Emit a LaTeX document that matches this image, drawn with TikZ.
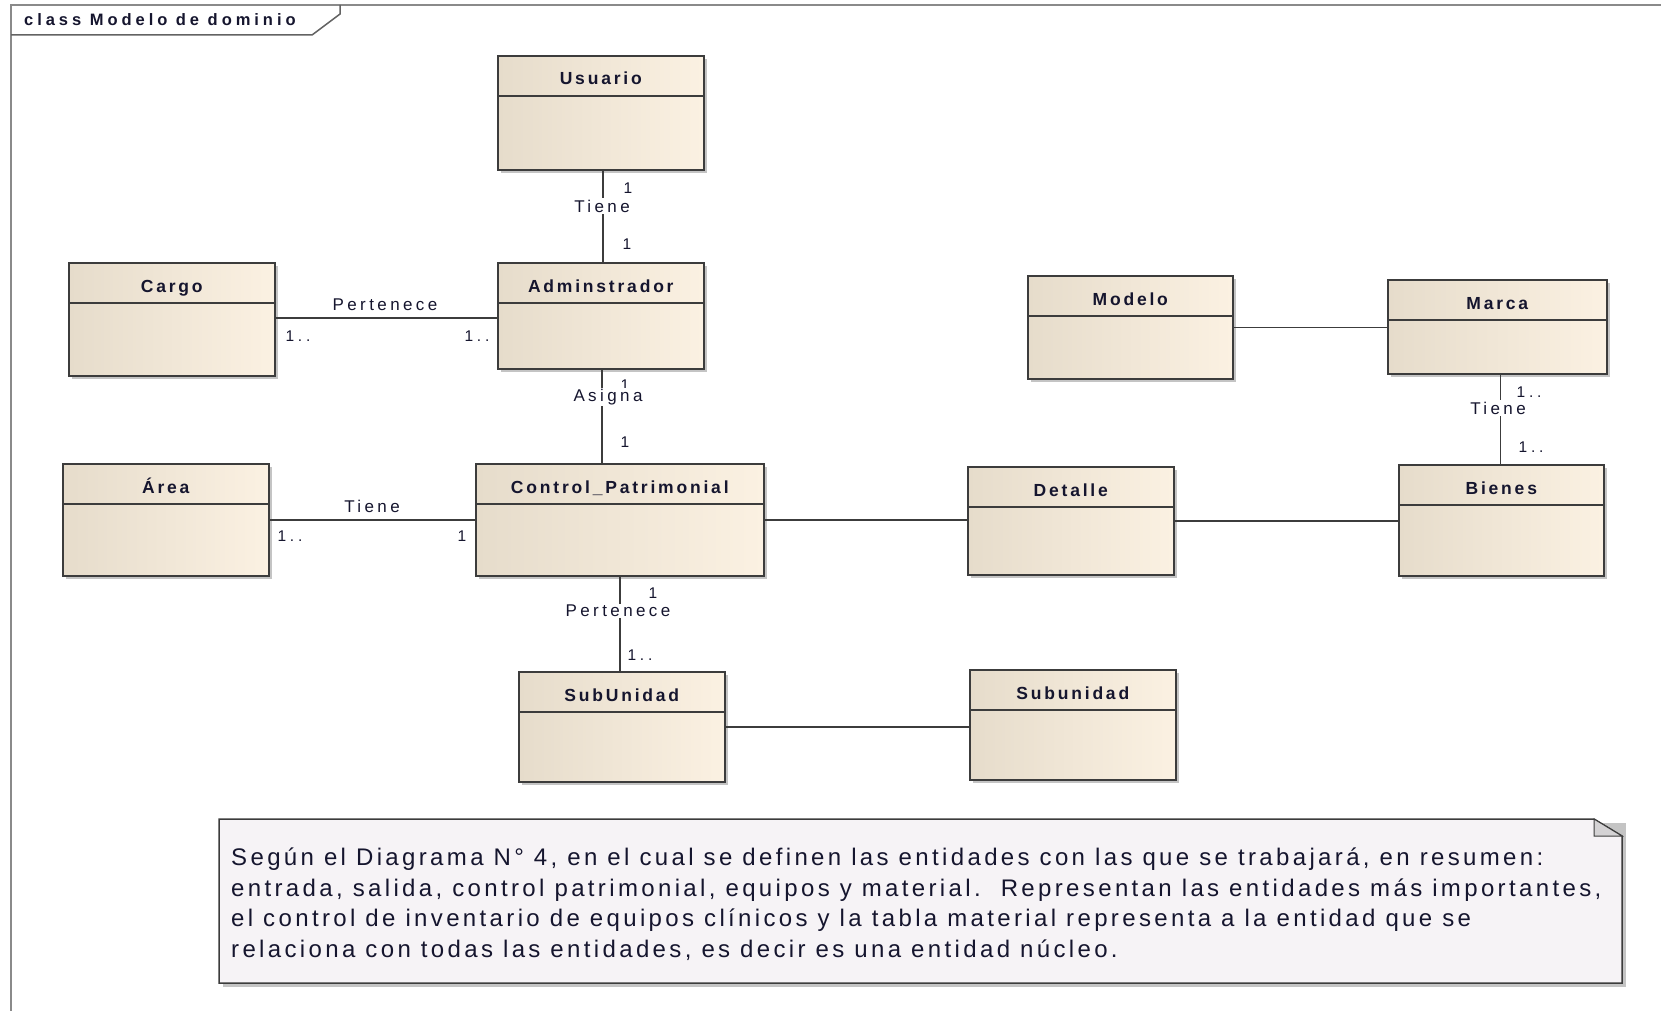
\documentclass[tikz,border=0pt]{standalone}
\usepackage{fontspec}
\setmainfont{Liberation Sans}
\newfontfamily\clsfont[LetterSpace=16]{Liberation Sans}
\newfontfamily\lblfont[LetterSpace=20]{Liberation Sans}
\newfontfamily\mulfont[LetterSpace=24]{Liberation Sans}
\newfontfamily\framefont[LetterSpace=24]{Liberation Sans}
\newfontfamily\notefont[LetterSpace=14]{Liberation Sans}
\usetikzlibrary{calc}

\definecolor{boxline}{HTML}{3C3C3C}
\definecolor{clsL}{HTML}{E6DCCB}
\definecolor{clsR}{HTML}{FBF1E2}
\definecolor{txt}{HTML}{15152E}
\definecolor{framec}{HTML}{8A8A8A}
\definecolor{notefill}{HTML}{F6F3F6}
\definecolor{foldc}{HTML}{D4D2D4}
\definecolor{shadowc}{HTML}{C4C4C4}

\tikzset{
  classbox/.style={draw=boxline, line width=1.6pt, left color=clsL, right color=clsR,
    inner sep=0pt, rectangle},
  classtitle/.style={font=\clsfont\bfseries\fontsize{17.5}{19}\selectfont, text=txt,
    inner sep=0pt, anchor=base},
  assoc/.style={draw=boxline, line width=1.4pt},
  rolename/.style={font=\lblfont\fontsize{17}{19}\selectfont, text=txt, inner sep=1.5pt},
  rolegap/.style={rolename, fill=white},
  mult/.style={font=\mulfont\fontsize{15.5}{17}\selectfont, text=txt, inner sep=0pt},
  notetext/.style={font=\notefont\fontsize{24}{28}\selectfont, text=txt,
    anchor=base west, inner sep=0pt},
}

% UML class: name, left x, top y, width, height, title
\newcommand\umlclass[6]{%
  \fill[shadowc] (#2+4,#3+4) rectangle (#2+#4+4,#3+#5+4);
  \node[classbox, anchor=north west, minimum width=#4pt, minimum height=#5pt] (#1) at (#2,#3) {};
  \draw[boxline, line width=1.6pt] ([yshift=-41pt]#1.north west) -- ([yshift=-41pt]#1.north east);
  \node[classtitle] (#1-title) at ([yshift=-30pt]#1.north) {#6};
}

\begin{document}
\begin{tikzpicture}[x=1pt, y=-1pt]
  \fill[white] (0,0) rectangle (1661,1011);
  \useasboundingbox (0,0) rectangle (1661,1011);

  % diagram frame and its tab
  \draw[framec, line width=2.5pt] (11,1011) -- (11,5) -- (1661,5);
  \draw[boxline!80, line width=1.5pt] (11,35) -- (312,35) -- (340,14) -- (340,5);
  \node[font=\framefont\bfseries\fontsize{16.5}{18}\selectfont, anchor=base west, text=txt,
    inner sep=0pt] (frametitle) at (24,26) {class Modelo de dominio};

  % classes
  \umlclass{usuario}{497}{55}{206}{114}{Usuario}
  \umlclass{admin}{497}{262}{206}{106}{Adminstrador}
  \umlclass{cargo}{68}{262}{206}{113}{Cargo}
  \umlclass{area}{62}{463}{206}{112}{Área}
  \umlclass{control}{475}{463}{288}{112}{Control\_Patrimonial}
  \umlclass{subunidad}{518}{671}{206}{110}{SubUnidad}
  \umlclass{subunidad2}{969}{669}{206}{110}{Subunidad}
  \umlclass{detalle}{967}{466}{206}{108}{Detalle}
  \umlclass{bienes}{1398}{464}{205}{111}{Bienes}
  \umlclass{modelo}{1027}{275}{205}{103}{Modelo}
  \umlclass{marca}{1387}{279}{219}{94}{Marca}

  % Usuario -- Adminstrador
  \draw[assoc] ([xshift=2pt]usuario.south) -- ([xshift=2pt]admin.north);
  \node[mult] (m1a) at (628,188) {1};
  \node[rolegap] (r1) at (602,206) {Tiene};
  \node[mult] (m1b) at (627,244) {1};

  % Cargo -- Adminstrador
  \draw[assoc] ([yshift=-2pt]admin.west) -- ([yshift=-2pt]admin.west -| cargo.east);
  \node[rolename] (r2) at (385,305) {Pertenece};
  \node[mult] (m2a) at (298,336) {1..};
  \node[mult] (m2b) at (477,336) {1..};

  % Adminstrador -- Control_Patrimonial
  \draw[assoc] ([xshift=1pt]admin.south) -- ([xshift=1pt]admin.south |- control.north);
  \node[mult] (m3a) at (625,385) {1};
  \node[rolegap] (r3) at (608,397) {Asigna};
  \node[mult] (m3b) at (625,442) {1};

  % Area -- Control_Patrimonial
  \draw[assoc] (area.east) -- (area.east -| control.west);
  \node[rolename] (r4) at (372,506) {Tiene};
  \node[mult] (m4a) at (290,536) {1..};
  \node[mult] (m4b) at (462,536) {1};

  % Control_Patrimonial -- Detalle -- Bienes
  \draw[assoc] (control.east) -- (control.east -| detalle.west);
  \draw[assoc] (detalle.east) -- (detalle.east -| bienes.west);

  % Control_Patrimonial -- SubUnidad
  \draw[assoc] (control.south) -- (control.south |- subunidad.north);
  \node[mult] (m5a) at (653,593) {1};
  \node[rolegap] (r5) at (618,611) {Pertenece};
  \node[mult] (m5b) at (640,655) {1..};

  % SubUnidad -- Subunidad
  \draw[assoc] (subunidad.east) -- (subunidad.east -| subunidad2.west);

  % Modelo -- Marca
  \draw[assoc] (modelo.east) -- (modelo.east -| marca.west);

  % Marca -- Bienes
  \draw[assoc] ([xshift=-1pt]bienes.north |- marca.south) -- ([xshift=-1pt]bienes.north);
  \node[mult] (m6a) at (1529,392) {1..};
  \node[rolegap] (r6) at (1498,408) {Tiene};
  \node[mult] (m6b) at (1531,447) {1..};

  % note
  \fill[shadowc] (223,823) rectangle (1626,987);
  \draw[boxline, line width=1.5pt, fill=notefill]
    (219,819) -- (1594,819) -- (1622,836) -- (1622,983) -- (219,983) -- cycle;
  \draw[boxline, line width=1pt, fill=foldc] (1594,819) -- (1594,836) -- (1622,836) -- cycle;
  \node[notetext] (n1) at (231,865) {Según el Diagrama N° 4, en el cual se definen las entidades con las que se trabajará, en resumen:};
  \node[notetext] (n2) at (231,896) {entrada, salida, control patrimonial, equipos y material.\ \ Representan las entidades más importantes,};
  \node[notetext] (n3) at (231,926) {el control de inventario de equipos clínicos y la tabla material representa a la entidad que se};
  \node[notetext] (n4) at (231,957) {relaciona con todas las entidades, es decir es una entidad núcleo.};
\end{tikzpicture}
\end{document}
